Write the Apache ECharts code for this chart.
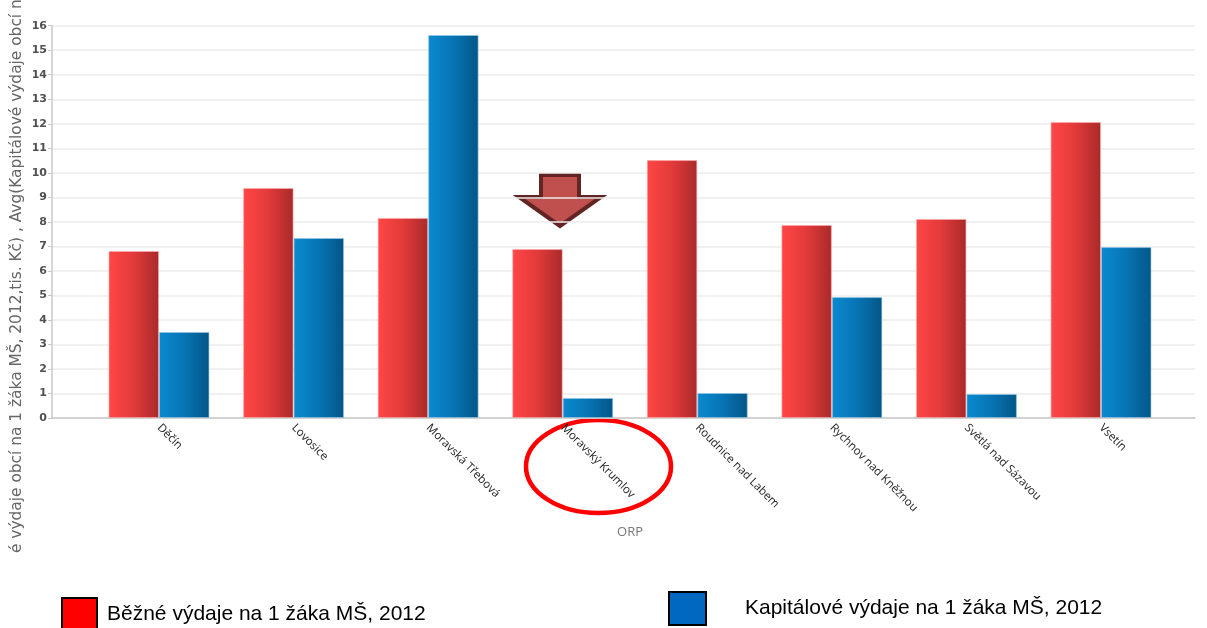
<!DOCTYPE html>
<html>
<head>
<meta charset="utf-8">
<style>
html,body{margin:0;padding:0;background:#fff;}
#chart{width:1207px;height:628px;}
</style>
<script src="https://cdn.jsdelivr.net/npm/echarts@6/dist/echarts.min.js"></script>
</head>
<body>
<div id="chart"></div>
<script>
const categories = ['Děčín', 'Lovosice', 'Moravská Třebová', 'Moravský Krumlov', 'Roudnice nad Labem', 'Rychnov nad Kněžnou', 'Světlá nad Sázavou', 'Vsetín'];
const bezneValues = [6.81, 9.38, 8.16, 6.89, 10.52, 7.87, 8.12, 12.07];
const kapitaloveValues = [3.51, 7.34, 15.62, 0.82, 1.02, 4.93, 0.98, 6.97];
const seriesNames = ['Běžné výdaje na 1 žáka MŠ, 2012', 'Kapitálové výdaje na 1 žáka MŠ, 2012'];
const yAxisTitle = 'é výdaje obcí na 1 žáka MŠ, 2012,tis. Kč) , Avg(Kapitálové výdaje obcí na 1 žáka MŠ, 2012,tis. Kč)';
const xAxisTitle = 'ORP';

const chart = echarts.init(document.getElementById('chart'), null, {renderer: 'canvas'});
const G = echarts.graphic;
const redGrad = new G.LinearGradient(0, 0, 1, 0, [
  {offset: 0, color: '#ff4646'},
  {offset: 0.5, color: '#e23a3a'},
  {offset: 1, color: '#a92a2a'}
]);
const blueGrad = new G.LinearGradient(0, 0, 1, 0, [
  {offset: 0, color: '#0a8ad0'},
  {offset: 0.5, color: '#0774b4'},
  {offset: 1, color: '#035686'}
]);

const option = {
  animation: false,
  backgroundColor: '#fff',
  grid: [
    {left: 52, right: 12, top: 25.7, bottom: 210, containLabel: false},
    {left: 91.7, right: 38.7, top: 25.7, bottom: 210, containLabel: false}
  ],
  xAxis: [
    {
      gridIndex: 0, type: 'value', min: 0, max: 1,
      axisLine: {show: true, lineStyle: {color: '#c8c8c8', width: 1.5}},
      axisTick: {show: false}, axisLabel: {show: false}, splitLine: {show: false}
    },
    {
      gridIndex: 1, type: 'category', data: categories,
      axisLine: {show: false}, axisTick: {show: false},
      name: xAxisTitle, nameLocation: 'middle', nameGap: 108,
      nameTextStyle: {color: '#777', fontSize: 13, fontFamily: 'Open Sans'},
      axisLabel: {
        rotate: -45, interval: 0, margin: 8,
        color: '#222', fontSize: 11.5, fontFamily: 'Open Sans'
      }
    }
  ],
  yAxis: [
    {
      gridIndex: 0, type: 'value', min: 0, max: 16, interval: 1,
      axisLine: {show: true, lineStyle: {color: '#c8c8c8', width: 1.5}},
      axisTick: {show: true, length: 4, lineStyle: {color: '#c8c8c8'}},
      axisLabel: {color: '#505050', fontSize: 11, fontWeight: 'bold', fontFamily: 'DejaVu Sans', margin: 5},
      splitLine: {show: true, lineStyle: {color: '#ececec', width: 1.5}}
    },
    {
      gridIndex: 1, type: 'value', min: 0, max: 16, interval: 1, show: false
    }
  ],
  legend: [
    {
      data: [{name: seriesNames[0], itemStyle: {color: '#ff0000', borderColor: '#000', borderWidth: 2}}],
      left: 61, top: 597, padding: 0, itemWidth: 35, itemHeight: 32, icon: 'rect',
      textStyle: {color: '#000', fontSize: 21, fontFamily: 'Liberation Sans', padding: [10, 0, 0, 5]},
      selectedMode: false
    },
    {
      data: [{name: seriesNames[1], itemStyle: {color: '#0068c0', borderColor: '#000', borderWidth: 2}}],
      left: 668, top: 591, padding: 0, itemWidth: 37, itemHeight: 33, icon: 'rect',
      textStyle: {color: '#000', fontSize: 21, fontFamily: 'Liberation Sans', padding: [10, 0, 0, 34]},
      selectedMode: false
    }
  ],
  series: [
    {
      name: seriesNames[0], type: 'bar', xAxisIndex: 1, yAxisIndex: 1,
      data: bezneValues, barGap: '0%', barCategoryGap: '25%',
      itemStyle: {color: redGrad, borderColor: 'rgba(255,170,170,0.6)', borderWidth: 1}
    },
    {
      name: seriesNames[1], type: 'bar', xAxisIndex: 1, yAxisIndex: 1,
      data: kapitaloveValues, barGap: '0%', barCategoryGap: '25%',
      itemStyle: {color: blueGrad, borderColor: 'rgba(150,200,230,0.6)', borderWidth: 1}
    }
  ],
  graphic: [
    {
      type: 'text', x: 17, y: 553, rotation: Math.PI / 2, silent: true,
      style: {text: yAxisTitle, fill: '#666', fontSize: 15.4, fontFamily: 'DejaVu Sans', textAlign: 'left', textVerticalAlign: 'middle'}
    },
    {
      type: 'polygon', silent: true,
      shape: {points: [[541, 175], [579, 175], [579, 197], [601, 197], [560, 226], [519, 197], [541, 197]]},
      style: {fill: '#c0504d', stroke: '#632523', lineWidth: 4, lineJoin: 'miter'}
    },
    {
      type: 'ellipse', silent: true,
      shape: {cx: 598.5, cy: 466.5, rx: 72.5, ry: 46.5},
      style: {fill: 'none', stroke: '#ff0000', lineWidth: 4.5}
    }
  ]
};
chart.setOption(option);
</script>
</body>
</html>
